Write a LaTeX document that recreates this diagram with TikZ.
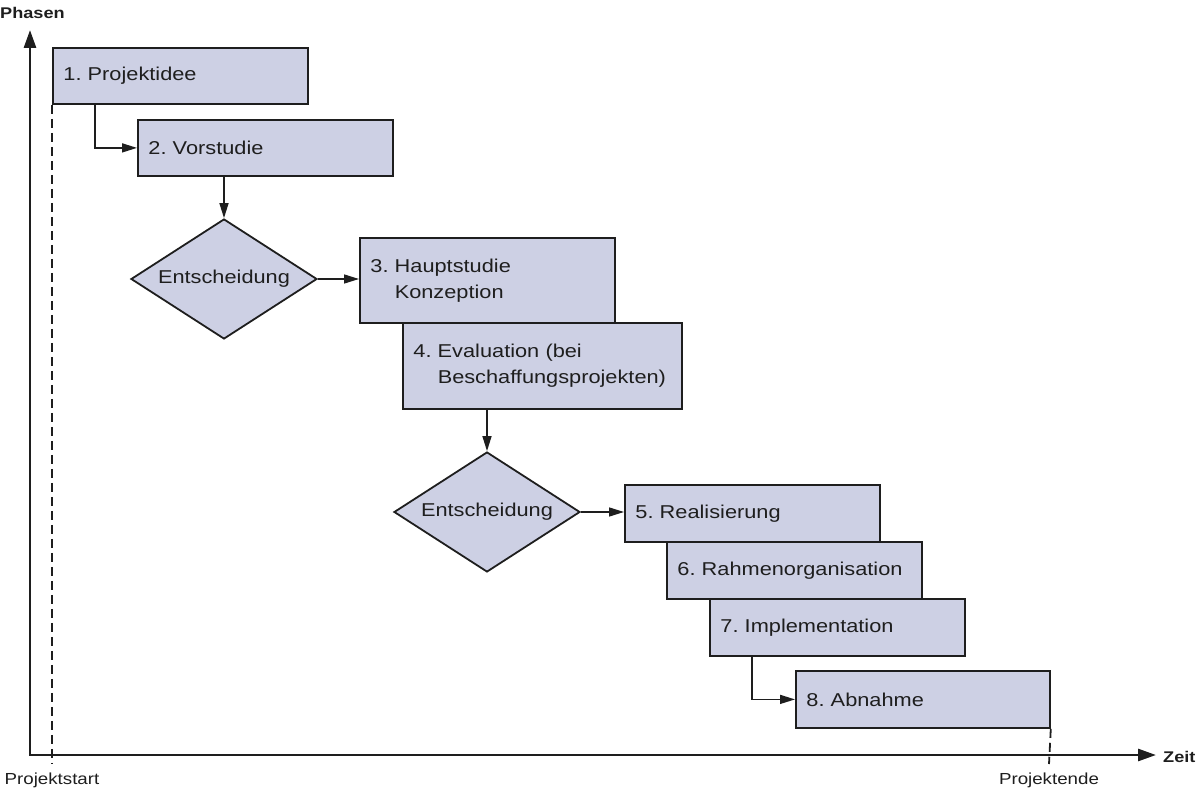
\documentclass[tikz,border=0pt]{standalone}
\usepackage{fontspec}
\setmainfont[FakeStretch=1.17]{Liberation Sans}
\usetikzlibrary{shapes.geometric,arrows.meta,calc}
\definecolor{boxfill}{RGB}{205,208,228}
\definecolor{ink}{RGB}{30,30,30}
\frenchspacing
\begin{document}
\begin{tikzpicture}[x=1pt,y=-1pt,
  every node/.style={text=ink},
  box/.style={draw=ink,fill=boxfill,line width=1.8pt,rectangle,anchor=north west,
    inner xsep=10.5pt,inner ysep=0pt,align=left,text width=234pt,minimum height=56pt,
    font=\fontsize{18.6}{26}\selectfont},
  dec/.style={draw=ink,fill=boxfill,line width=1.8pt,shape=diamond,aspect=1.55,inner sep=0pt,
    minimum width=186pt,minimum height=120pt,font=\fontsize{18.6}{26}\selectfont},
  conn/.style={draw=ink,line width=1.5pt,-{Triangle[length=15pt,width=9pt]}},
  axis/.style={draw=ink,line width=2.8pt,{Triangle[length=18pt,width=12pt]}-{Triangle[length=18pt,width=12pt]}},
  marker/.style={draw=ink,line width=1.8pt,dash pattern=on 9pt off 5pt},
  lbl/.style={font=\fontsize{16}{18}\selectfont,inner sep=0pt},
  axlbl/.style={font=\fontsize{15.5}{17}\selectfont\bfseries,inner sep=0pt,anchor=west}]
\useasboundingbox (0,0) rectangle (1200,794);
% axes
\coordinate (o) at (30,755);
\coordinate (ytip) at (30,30);
\coordinate (xtip) at (1156,755);
% boxes
\node[box] (b1) at (52,47) {1. Projektidee};
\node[box] (b2) at (137,119) {2. Vorstudie};
\node[dec] (d1) at (224,279) {Entscheidung};
\node[box,minimum height=85pt] (b3) at (359,237) {3. Hauptstudie\\\phantom{3. }Konzeption};
\node[box,minimum height=86pt,text width=258pt] (b4) at (402,322) {4. Evaluation (bei\\\phantom{4. }Beschaffungsprojekten)};
\node[dec] (d2) at (487,512) {Entscheidung};
\node[box,minimum height=57pt] (b5) at (624,484) {5. Realisierung};
\node[box,minimum height=57pt] (b6) at (666,541) {6. Rahmenorganisation};
\node[box,minimum height=57pt] (b7) at (709,598) {7. Implementation};
\node[box,minimum height=57pt,text width=233pt] (b8) at (795,670) {8. Abnahme};
% markers
\coordinate (ps) at (52,764);
\coordinate (pe) at (1049,764);
\draw[marker] (b1.south west) -- (ps);
\draw[marker] (b8.south east) -- (pe);
\draw[axis] (ytip) -- (o) -- (xtip);
% connectors
\draw[conn] ($(b1.south west)+(43,0)$) |- (b2.west);
\draw[conn] (d1.north |- b2.south) -- (d1.north);
\draw[conn] (d1.east) -- (d1.east -| b3.west);
\draw[conn] (d2.north |- b4.south) -- (d2.north);
\draw[conn] (d2.east) -- (d2.east -| b5.west);
\draw[conn] ($(b7.south west)+(43,0)$) |- (b8.west);
% labels
\node[axlbl] (phasen) at (0,13) {Phasen};
\node[axlbl] (zeit) at (1163,757) {Zeit};
\node[lbl] (start) at (52,780) {Projektstart};
\node[lbl] (ende) at (1049,780) {Projektende};
\end{tikzpicture}
\end{document}
